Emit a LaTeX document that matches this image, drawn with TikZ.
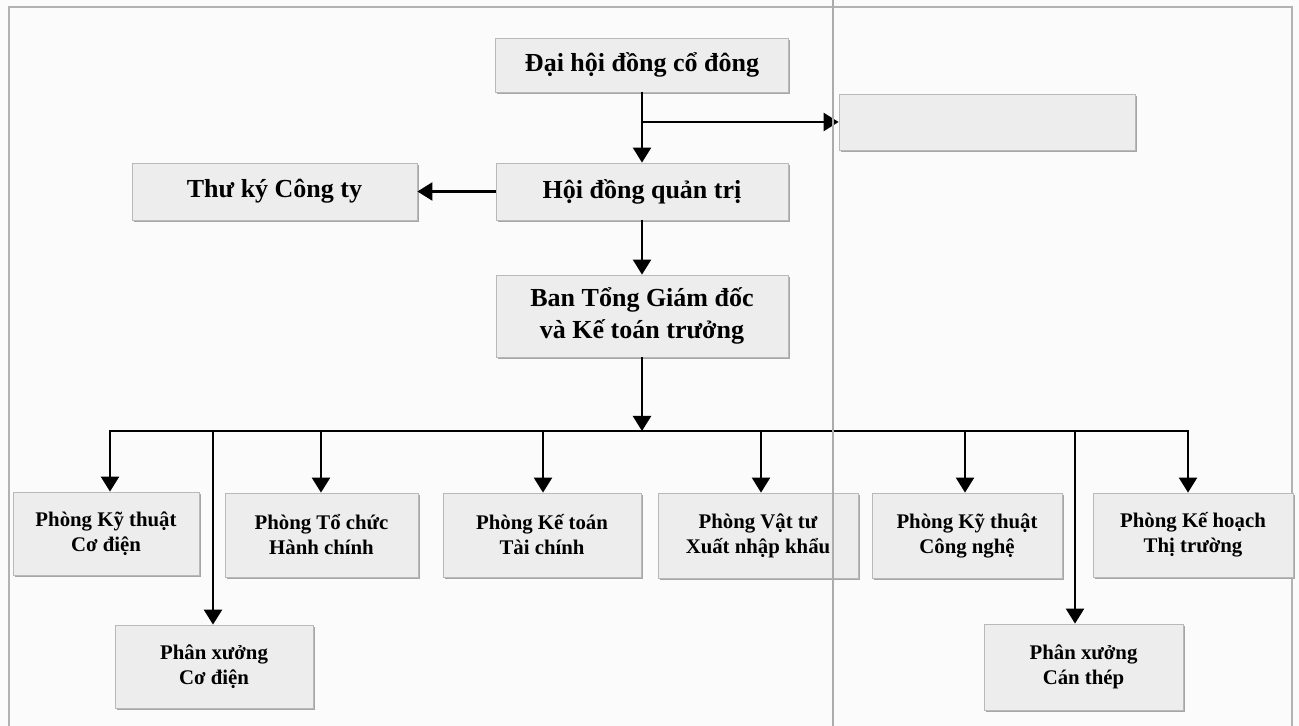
\documentclass[tikz,border=0pt]{standalone}
\usepackage{fontspec}
\setmainfont{Liberation Serif}
\usetikzlibrary{arrows.meta, positioning, shadows}

\begin{document}
\begin{tikzpicture}[x=0.5pt, y=-0.5pt, line width=1.2pt]
            \tikzstyle{box}   = [rectangle, draw=gray!55, line width=0.4pt, fill=gray!14, inner sep=2pt, align=center,
                                 drop shadow={shadow xshift=0.8pt, shadow yshift=-0.9pt, fill=gray!70, opacity=1}]
            \tikzstyle{board} = [box, font=\bfseries\fontsize{13}{15.8}\selectfont]
            \tikzstyle{dept}  = [box, font=\bfseries\fontsize{10.4}{12.5}\selectfont]
            \tikzstyle{arr}   = [-{Triangle[length=7.5pt,width=9pt]}]

            % page ...................................
            \useasboundingbox (0,0) rectangle (1299,726);
            \fill[gray!3] (0,0) rectangle (1299,726);
            \draw[gray!60, line width=0.6pt] (9,726) -- (9,7) -- (1292,7) -- (1292,726);

            % top levels .............................
            \node[board, minimum width=146.5pt, minimum height=27pt] (dhdcd) at (642,65) {Đại hội đồng cổ đông};
            \node[box, minimum width=148pt, minimum height=28pt] (blank) at (987,122) {};
            \node[board, minimum width=146pt, minimum height=28.5pt] (hdqt) at (642,191.5) {Hội đồng quản trị};
            \node[board, minimum width=142.5pt, minimum height=28.5pt] (tky) at (274.5,191.5) {Thư ký Công ty};
            \node[board, minimum width=146pt, minimum height=41pt] (bgd) at (642,316) {Ban Tổng Giám đốc\\và Kế toán trưởng};

            % departments ............................
            \node[dept, minimum width=93pt, minimum height=41.5pt] (pktcd) at (106,533.5) {Phòng Kỹ thuật\\Cơ điện};
            \node[dept, minimum width=96.5pt, minimum height=42pt] (ptchc) at (321.5,535) {Phòng Tổ chức\\Hành chính};
            \node[dept, minimum width=99pt, minimum height=42pt] (pkttc) at (542,535) {Phòng Kế toán\\Tài chính};
            \node[dept, minimum width=100pt, minimum height=42.5pt] (pvt) at (758,535.5) {Phòng Vật tư\\Xuất nhập khẩu};
            \node[dept, minimum width=95pt, minimum height=42.5pt] (pktcn) at (967,535.5) {Phòng Kỹ thuật\\Công nghệ};
            \node[dept, minimum width=100pt, minimum height=42pt] (pkhtt) at (1193,535) {Phòng Kế hoạch\\Thị trường};
            \node[dept, minimum width=99pt, minimum height=41.5pt] (pxcd) at (214,666.5) {Phân xưởng\\Cơ điện};
            \node[dept, minimum width=99.5pt, minimum height=43pt] (pxct) at (1083.5,667) {Phân xưởng\\Cán thép};

            % connectors .............................
            \draw[arr] (dhdcd) -- (hdqt);
            \coordinate (split) at (dhdcd.south |- blank.west);
            \draw[arr] (split) -- (blank.west);
            \draw[arr] (hdqt) -- (tky);
            \draw[arr] (hdqt) -- (bgd);

            \coordinate (bus) at (642,431);
            \draw[arr] (bgd) -- (bus);
            \foreach \x/\n in {110/pktcd, 213/pxcd, 321/ptchc, 543/pkttc, 761/pvt, 965/pktcn, 1075/pxct, 1188/pkhtt} {
                \coordinate (d\n) at (\x,431);
                \draw[arr] (d\n) -- (d\n |- \n.north);
            }
            \draw[line cap=rect] (dpktcd) -- (dpkhtt);

            % scan fold ..............................
            \draw[gray!65, line width=1pt] (833,0) -- (833,726);

        \end{tikzpicture}
\end{document}
